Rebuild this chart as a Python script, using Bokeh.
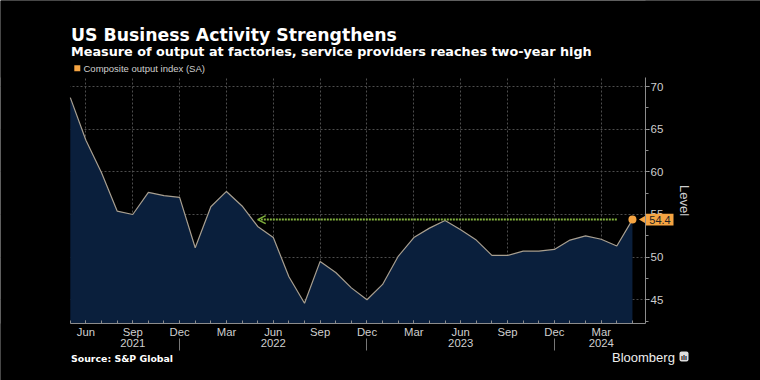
import math
from bokeh.plotting import figure
from bokeh.models import (Range1d, LinearAxis, FixedTicker, Label, Arrow, OpenHead,
                          ColumnDataSource, Grid, BoxAnnotation)
from bokeh.embed import file_html
from bokeh.resources import INLINE

# ---------------- data (monthly, May 2021 .. May 2024) ----------------
months = ["May", "Jun", "Jul", "Aug", "Sep", "Oct", "Nov", "Dec",
          "Jan", "Feb", "Mar", "Apr", "May", "Jun", "Jul", "Aug", "Sep", "Oct", "Nov", "Dec",
          "Jan", "Feb", "Mar", "Apr", "May", "Jun", "Jul", "Aug", "Sep", "Oct", "Nov", "Dec",
          "Jan", "Feb", "Mar", "Apr", "May"]
years = [2021] * 8 + [2022] * 12 + [2023] * 12 + [2024] * 5
values = [68.7, 63.7, 59.9, 55.4, 55.0, 57.6, 57.2, 57.0,
          51.1, 55.9, 57.7, 56.0, 53.6, 52.3, 47.7, 44.6, 49.5, 48.2, 46.4, 45.0,
          46.8, 50.1, 52.3, 53.4, 54.3, 53.2, 52.0, 50.2, 50.2, 50.7, 50.7, 50.9,
          52.0, 52.5, 52.1, 51.3, 54.4]
y_ticks = [45, 50, 55, 60, 65, 70]
year_label_pos = {2021: "Sep", 2022: "Jun", 2023: "Jun", 2024: "Mar"}
arrow_from = (2024, "Apr")
arrow_to = (2022, "May")

TITLE = "US Business Activity Strengthens"
SUBTITLE = "Measure of output at factories, service providers reaches two-year high"
LEGEND = "Composite output index (SA)"
SOURCE = "Source: S&P Global"
YLABEL = "Level"

x = list(range(len(values)))

def idx(year, mon):
    for i, (yy, mm) in enumerate(zip(years, months)):
        if yy == year and mm == mon:
            return i

# ---------------- geometry: whole canvas is the frame ----------------
W, H = 760, 380
X0PX, XPX = 69.8, 15.615      # pixel of first month, pixels per month
Y70PX, YPX = 86.0, 8.532      # pixel of level 70, pixels per level unit

def dx(px):  # canvas px -> data x
    return (px - X0PX) / XPX

def dy(py):  # canvas px (from top) -> data y
    return 70 - (py - Y70PX) / YPX

def sy(py):  # canvas px (from top) -> screen units (from bottom)
    return H - py

XR, YT, YB = dx(645), dy(77), dy(323)   # plot area edges

SANS = "Liberation Sans"
DEJ = "DejaVu Sans"
ORANGE = "#f5a442"
GREEN = "#80b03c"
GRAY_TXT = "#cfcfcf"
AXIS_C = "#8c8c8c"

p = figure(width=W, height=H, x_range=Range1d(dx(0), dx(W)), y_range=Range1d(dy(H), dy(0)),
           output_backend="svg", toolbar_location=None,
           x_axis_location=None, y_axis_location=None,
           background_fill_color="black", border_fill_color="black", outline_line_color=None,
           min_border=0, min_border_left=0, min_border_right=0, min_border_top=0, min_border_bottom=0)
p.title.visible = False
p.xgrid.visible = False
p.ygrid.visible = False

# ---------------- grids restricted to plot area ----------------
major_x = [i for i, m in enumerate(months) if m in ("Mar", "Jun", "Sep", "Dec")]
gx = Grid(dimension=0, ticker=FixedTicker(ticks=major_x), grid_line_color="#4d4d4d",
          grid_line_dash="2 2", bounds=(0, XR))
gy = Grid(dimension=1, ticker=FixedTicker(ticks=y_ticks), grid_line_color="#4d4d4d",
          grid_line_dash="2 2", bounds=(YB, YT))
p.add_layout(gx)
p.add_layout(gy)
for kw in (dict(right=0), dict(left=XR), dict(bottom=YT), dict(top=YB)):
    p.add_layout(BoxAnnotation(fill_color="black", fill_alpha=1, line_alpha=0,
                               level="underlay", **kw))

# ---------------- series ----------------
src = ColumnDataSource(dict(x=x, v=values, base=[YB] * len(x)))
p.varea(x="x", y1="base", y2="v", source=src, fill_color="#0a1f3c")
p.line(x="x", y="v", source=src, line_color="#a89f90", line_width=1.2)
p.scatter([x[-1]], [values[-1]], size=8, fill_color=ORANGE, line_color=None)

# ---------------- axes ----------------
xa = LinearAxis(fixed_location=YB, bounds=(0, XR),
                ticker=FixedTicker(ticks=major_x, minor_ticks=x),
                major_label_overrides={i: months[i] for i in major_x})
xa.axis_line_color = AXIS_C
xa.major_tick_in = 3
xa.major_tick_out = 0
xa.minor_tick_in = 3
xa.minor_tick_out = 0
xa.major_tick_line_color = AXIS_C
xa.minor_tick_line_color = AXIS_C
xa.major_label_text_color = GRAY_TXT
xa.major_label_text_font = SANS
xa.major_label_text_font_size = "11.3px"
xa.major_label_standoff = 2
p.add_layout(xa, "below")

year_ticks = [idx(yy, mm) for yy, mm in year_label_pos.items()]
seps = [i for i, m in enumerate(months) if m == "Dec"]
yax = LinearAxis(fixed_location=dy(338), ticker=FixedTicker(ticks=year_ticks, minor_ticks=seps),
                 major_label_overrides={idx(yy, mm): str(yy) for yy, mm in year_label_pos.items()})
yax.axis_line_color = None
yax.major_tick_line_color = None
yax.major_tick_in = 0
yax.major_tick_out = 0
yax.minor_tick_in = 0
yax.minor_tick_out = 12
yax.minor_tick_line_color = "#777777"
yax.major_label_text_color = GRAY_TXT
yax.major_label_text_font = SANS
yax.major_label_text_font_size = "11.3px"
yax.major_label_standoff = -12
p.add_layout(yax, "below")

ya = LinearAxis(fixed_location=XR, bounds=(YB, YT),
                ticker=FixedTicker(ticks=y_ticks,
                                   minor_ticks=[t + d for t in y_ticks for d in (-2.5, 0)] + [70]))
ya.axis_line_color = AXIS_C
ya.major_tick_in = 0
ya.major_tick_out = 4
ya.minor_tick_in = 0
ya.minor_tick_out = 3
ya.major_tick_line_color = "#bbbbbb"
ya.minor_tick_line_color = AXIS_C
ya.major_label_text_color = GRAY_TXT
ya.major_label_text_font = SANS
ya.major_label_text_font_size = "11.5px"
ya.major_label_standoff = 1
ya.axis_label = YLABEL
ya.axis_label_text_color = GRAY_TXT
ya.axis_label_text_font = SANS
ya.axis_label_text_font_size = "13px"
ya.axis_label_text_font_style = "normal"
ya.axis_label_standoff = 11
p.add_layout(ya, "right")

# ---------------- arrow back to the last comparable level ----------------
p.add_layout(Arrow(x_start=idx(*arrow_from), y_start=values[-1], x_end=idx(*arrow_to), y_end=values[-1],
                   line_color=GREEN, line_width=2, line_dash="2 1",
                   end=OpenHead(size=8, line_color=GREEN, line_width=1.5)))

# ---------------- end value tag ----------------
p.add_layout(BoxAnnotation(left=645.5, right=673, left_units="screen", right_units="screen",
                           top=values[-1] + 0.68, bottom=values[-1] - 0.68,
                           fill_color=ORANGE, fill_alpha=1, line_alpha=0))
p.scatter([dx(643)], [values[-1]], marker="triangle", angle=math.pi / 2, size=8,
          fill_color=ORANGE, line_color=None)
p.add_layout(Label(x=659.5, y=values[-1], x_units="screen", y_units="data", text=f"{values[-1]:.1f}",
                   text_font=SANS, text_font_size="11px", text_color="#222222",
                   text_align="center", text_baseline="middle"))

# ---------------- texts ----------------
def lab(text, xr, yr, size, color="white", font=SANS, bold=False, align="left", baseline="middle", **kw):
    p.add_layout(Label(x=xr, y=sy(yr), x_units="screen", y_units="screen", text=text,
                       text_font=font, text_font_size=size, text_color=color,
                       text_font_style="bold" if bold else "normal",
                       text_align=align, text_baseline=baseline, **kw))

lab(TITLE, 70.5, 34.3, "17.3px", font=DEJ, bold=True, baseline="alphabetic")
lab(SUBTITLE, 70.5, 50.5, "12.8px", font=DEJ, bold=True, baseline="alphabetic")
p.scatter([dx(76.8)], [dy(67.8)], marker="square", size=6, fill_color=ORANGE, line_color=None)
lab(LEGEND, 83, 68.3, "9.5px", color=GRAY_TXT)
lab(SOURCE, 70.5, 358, "9.4px", font=DEJ, bold=True)
lab("Bloomberg", 611.5, 357, "13px", color="#eeeeee")
p.add_layout(BoxAnnotation(left=679, right=688, top=sy(351), bottom=sy(361),
                           left_units="screen", right_units="screen",
                           top_units="screen", bottom_units="screen",
                           fill_color="#dddddd", fill_alpha=1, line_alpha=0, border_radius=2))
lab("\u0131l\u0131", 683.5, 356.5, "7px", color="black", bold=True, align="center")

open("out.html", "w").write(file_html(p, INLINE))
